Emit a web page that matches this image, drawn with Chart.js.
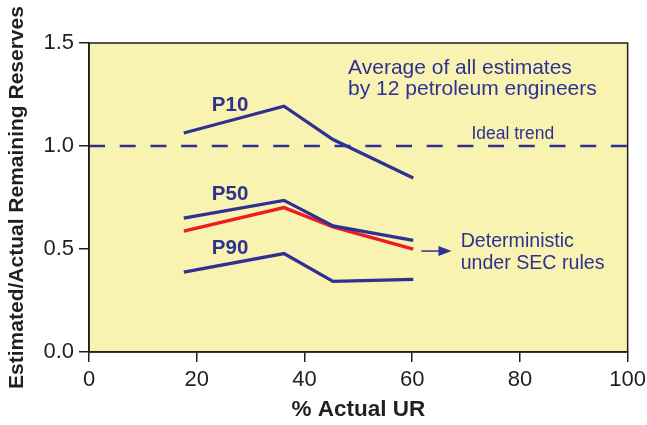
<!DOCTYPE html>
<html>
<head>
<meta charset="utf-8">
<script src="https://cdn.jsdelivr.net/npm/chart.js@4.4.1/dist/chart.umd.min.js"></script>
<style>
  html, body { margin: 0; padding: 0; background: #fff; }
  #wrap { width: 647px; height: 425px; }
</style>
</head>
<body>
<div id="wrap"><canvas id="c" width="647" height="425"></canvas></div>
<script>
const actualUR = [17.6, 36.2, 45.3, 60.2];
const p10 = [1.063, 1.193, 1.031, 0.845];
const p50 = [0.650, 0.736, 0.612, 0.542];
const p90 = [0.388, 0.478, 0.343, 0.353];
const deterministic = [0.587, 0.701, 0.607, 0.499];
const idealTrend = [1.0, 1.0];
const idealX = [0, 100];

const navy = "#2e3192";
const red = "#ed1c24";
const fontFam = "'Liberation Sans', Arial, sans-serif";

const toPoints = (xs, ys) => xs.map((x, i) => ({ x: x, y: ys[i] }));

const plotBox = {
    id: "plotBox",
    beforeDraw: (chart) => {
        const { ctx, chartArea: a } = chart;
        ctx.save();
        ctx.fillStyle = "#f8f3b0";
        ctx.fillRect(a.left, a.top, a.right - a.left, a.bottom - a.top);
        ctx.restore();
    },
    afterDraw: (chart) => {
        const { ctx, chartArea: a, scales } = chart;
        const x = scales.x, y = scales.y;
        const put = (txt, xv, yv) => ctx.fillText(txt, x.getPixelForValue(xv), y.getPixelForValue(yv));
        ctx.save();
        ctx.strokeStyle = "#231f20";
        ctx.lineWidth = 1.5;
        ctx.strokeRect(a.left, a.top, a.right - a.left, a.bottom - a.top);

        // labels
        ctx.fillStyle = navy;
        ctx.textBaseline = "alphabetic";
        ctx.textAlign = "left";
        ctx.font = "bold 20.5px " + fontFam;
        put("P10", 22.8, 1.170);
        put("P50", 22.8, 0.736);
        put("P90", 22.8, 0.478);

        ctx.font = "21px " + fontFam;
        put("Average of all estimates", 48.1, 1.351);
        put("by 12 petroleum engineers", 48.1, 1.246);

        ctx.font = "17.5px " + fontFam;
        put("Ideal trend", 71.0, 1.036);

        ctx.font = "19.6px " + fontFam;
        put("Deterministic", 69.0, 0.510);
        put("under SEC rules", 69.0, 0.401);

        // arrow
        const ax0 = x.getPixelForValue(61.7), ax1 = x.getPixelForValue(67.3);
        const ay = y.getPixelForValue(0.49);
        ctx.strokeStyle = navy;
        ctx.lineWidth = 1.5;
        ctx.beginPath();
        ctx.moveTo(ax0, ay);
        ctx.lineTo(ax1 - 10, ay);
        ctx.stroke();
        ctx.beginPath();
        ctx.moveTo(ax1, ay);
        ctx.lineTo(ax1 - 13, ay - 5);
        ctx.lineTo(ax1 - 13, ay + 5);
        ctx.closePath();
        ctx.fill();
        ctx.restore();
    }
};

const lineDs = (label, ys, color) => ({
    label: label,
    data: toPoints(actualUR, ys),
    borderColor: color,
    borderWidth: 3.3,
    pointRadius: 0,
    tension: 0,
    fill: false
});

new Chart(document.getElementById("c"), {
    type: "line",
    data: {
        datasets: [
            {
                label: "Ideal trend",
                data: toPoints(idealX, idealTrend),
                borderColor: navy,
                borderWidth: 2.5,
                borderDash: [16, 14.7],
                pointRadius: 0,
                fill: false
            },
            lineDs("P10", p10, navy),
            lineDs("P50", p50, navy),
            lineDs("P90", p90, navy),
            lineDs("Deterministic", deterministic, red)
        ]
    },
    options: {
        responsive: false,
        animation: false,
        layout: { padding: { top: 43, right: 19, left: 0, bottom: 0 } },
        plugins: {
            legend: { display: false },
            tooltip: { enabled: false }
        },
        scales: {
            x: {
                type: "linear",
                min: 0,
                max: 100,
                afterFit: (s) => { s.height = 73; },
                ticks: {
                    stepSize: 20,
                    color: "#231f20",
                    font: { size: 22, family: fontFam, lineHeight: 1.5 },
                    padding: 1
                },
                grid: { drawOnChartArea: false, tickLength: 10, color: "#231f20", lineWidth: 1.5 },
                border: { color: "#231f20", width: 1.5 },
                title: {
                    display: true,
                    text: "% Actual UR",
                    color: "#231f20",
                    font: { size: 22.5, weight: "bold", family: fontFam },
                    padding: { top: 2, bottom: 1.5 }
                }
            },
            y: {
                min: 0,
                max: 1.5,
                afterFit: (s) => { s.width = 89; },
                ticks: {
                    stepSize: 0.5,
                    color: "#231f20",
                    font: { size: 22, family: fontFam },
                    padding: 5,
                    callback: (v) => v.toFixed(1)
                },
                grid: { drawOnChartArea: false, tickLength: 10, color: "#231f20", lineWidth: 1.5 },
                border: { color: "#231f20", width: 1.5 },
                title: {
                    display: true,
                    text: "Estimated/Actual Remaining Reserves",
                    color: "#231f20",
                    font: { size: 21, weight: "bold", family: fontFam },
                    padding: { top: 5, bottom: 0 }
                }
            }
        }
    },
    plugins: [plotBox]
});
</script>
</body>
</html>
